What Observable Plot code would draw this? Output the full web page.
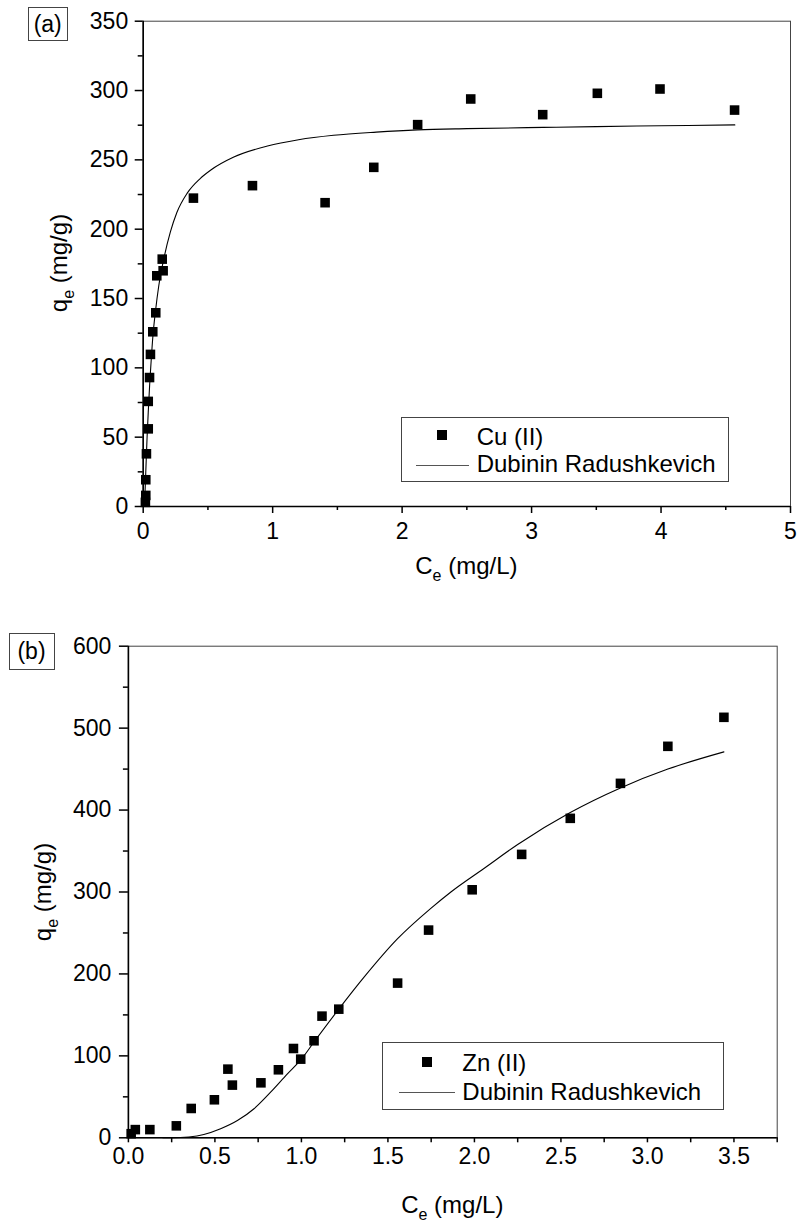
<!DOCTYPE html>
<html><head><meta charset="utf-8">
<script src="https://cdn.jsdelivr.net/npm/d3@7"></script>
<script src="https://cdn.jsdelivr.net/npm/@observablehq/plot@0.6"></script>
<style>
body{margin:0;background:#fff;font-family:"Liberation Sans",Arial,sans-serif;color:#000;}
#wrap{position:relative;width:798px;height:1222px;overflow:hidden;background:#fff;}
.abs{position:absolute;white-space:nowrap;font-size:24px;line-height:1;}
.sub{font-size:16px;position:relative;top:7px;}
.box{position:absolute;border:1px solid #444;box-sizing:border-box;}
.sq{position:absolute;width:10px;height:10px;background:#000;}
.ln{position:absolute;height:0;border-top:1px solid #555;}
</style></head><body><div id="wrap"></div>
<script>
// ---- Panel (a): Cu(II) ----
const cuCe = [0.017, 0.02, 0.02, 0.025, 0.039, 0.039, 0.049, 0.056, 0.074, 0.097, 0.105, 0.147, 0.154, 0.388, 0.844, 1.405, 1.781, 2.12, 2.53, 3.086, 3.508, 3.992, 4.568];
const cuQe = [3, 8, 19.3, 38, 56, 75.8, 93, 109.7, 126, 139.7, 166.4, 178.4, 170, 222.4, 231.4, 219.1, 244.6, 275.4, 293.9, 282.6, 298, 301.1, 285.9];
const cuFitCe = [0.012, 0.02, 0.03, 0.04, 0.05, 0.06, 0.075, 0.095, 0.12, 0.16, 0.21, 0.26, 0.34, 0.44, 0.52, 0.7, 0.96, 1.2, 1.47, 1.8, 2.12, 2.5, 3.09, 3.5, 4.0, 4.57];
const cuFitQe = [5, 25, 50, 70, 88, 103, 123, 141, 159, 179, 198, 212, 226, 236.5, 242.5, 252, 260, 264.5, 267.7, 270, 271.6, 272.5, 273.4, 274, 274.6, 275.2];
const xTicksA = [0, 1, 2, 3, 4, 5];
const xMinorA = [0.5, 1.5, 2.5, 3.5, 4.5];
const yTicksA = [0, 50, 100, 150, 200, 250, 300, 350];
const yMinorA = [25, 75, 125, 175, 225, 275, 325];

// ---- Panel (b): Zn(II) ----
const znCe = [0.016, 0.04, 0.124, 0.277, 0.363, 0.497, 0.575, 0.601, 0.766, 0.867, 0.954, 0.996, 1.073, 1.119, 1.216, 1.556, 1.735, 1.987, 2.273, 2.554, 2.844, 3.118, 3.442];
const znQe = [5, 10, 10, 14.6, 35.8, 46.4, 83.8, 64.3, 67.1, 83, 109, 96, 118.4, 148.5, 157, 188.8, 253.5, 302.7, 345.9, 389.9, 432.6, 477.8, 513.2];
const znFitCe = [0.2, 0.3, 0.35, 0.436, 0.533, 0.63, 0.726, 0.822, 0.919, 0.996, 1.073, 1.216, 1.362, 1.556, 1.748, 1.864, 2.057, 2.25, 2.554, 2.844, 3.118, 3.442];
const znFitQe = [0, 0.3, 1, 4, 11, 21, 35.5, 55.7, 78, 95, 117, 157, 196, 243, 280, 300, 329, 358, 397, 427, 450, 471];
const xTicksB = [0, 0.5, 1, 1.5, 2, 2.5, 3, 3.5];
const xMinorB = [0.25, 0.75, 1.25, 1.75, 2.25, 2.75, 3.25, 3.75];
const yTicksB = [0, 100, 200, 300, 400, 500, 600];
const yMinorB = [50, 150, 250, 350, 450, 550];

function panel(o) {
  const pts = o.px.map((x, i) => ({x, y: o.py[i]}));
  const fit = o.fx.map((x, i) => ({x, y: o.fy[i]}));
  const fs = 23;
  return Plot.plot({
    width: 798, height: o.height,
    marginTop: o.mt, marginBottom: o.mb, marginLeft: o.ml, marginRight: o.mr,
    style: {fontFamily: "'Liberation Sans', Arial, sans-serif", fontSize: "23px", color: "#000", background: "transparent", overflow: "visible"},
    x: {domain: o.xd, label: null},
    y: {domain: o.yd, label: null},
    marks: [
      Plot.frame({stroke: "#444", strokeWidth: 1}),
      Plot.axisX(o.xm, {tickSize: o.xMinorSize, tickFormat: () => "", strokeWidth: 1.5, label: null, fontSize: fs}),
      Plot.axisX(o.xt, {tickSize: o.xMajorSize, tickPadding: o.xPad, strokeWidth: 1.5, tickFormat: o.xf, label: null, fontSize: fs}),
      Plot.axisY(o.ym, {tickSize: 5, tickFormat: () => "", strokeWidth: 1.5, label: null, fontSize: fs}),
      Plot.axisY(o.yt, {tickSize: o.yMajorSize, tickPadding: o.yPad, strokeWidth: 1.5, label: null, fontSize: fs}),
      Plot.ruleY([o.yd[0]], {stroke: "#000", strokeWidth: 1.6}),
      Plot.ruleX([o.xd[0]], {stroke: "#000", strokeWidth: 1.6}),
      Plot.line(fit, {x: "x", y: "y", stroke: "#000", strokeWidth: 1.1, curve: "monotone-x"}),
      Plot.dot(pts, {x: "x", y: "y", symbol: "square", r: 5.4, fill: "#000", stroke: null})
    ]
  });
}

const wrap = document.getElementById("wrap");

const svgA = panel({
  height: 600, mt: 20.7, mb: 94, ml: 142.7, mr: 8,
  xd: [0, 5], yd: [0, 350], xt: xTicksA, xm: xMinorA, yt: yTicksA, ym: yMinorA,
  xf: d => String(d), xMajorSize: 7, xMinorSize: 4, xPad: 9, yMajorSize: 8, yPad: 7,
  px: cuCe, py: cuQe, fx: cuFitCe, fy: cuFitQe
});
svgA.style.position = "absolute"; svgA.style.left = "0px"; svgA.style.top = "0px";
wrap.appendChild(svgA);

const svgB = panel({
  height: 622, mt: 45.7, mb: 84.7, ml: 127.9, mr: 21.3,
  xd: [0, 3.75], yd: [0, 600], xt: xTicksB, xm: xMinorB, yt: yTicksB, ym: yMinorB,
  xf: d => d.toFixed(1), xMajorSize: 5, xMinorSize: 5, xPad: 4.5, yMajorSize: 9, yPad: 8,
  px: znCe, py: znQe, fx: znFitCe, fy: znFitQe
});
svgB.style.position = "absolute"; svgB.style.left = "0px"; svgB.style.top = "600px";
wrap.appendChild(svgB);

// ---- text overlays ----
function add(html, css, cls) {
  const d = document.createElement("div");
  d.className = cls || "abs";
  d.innerHTML = html || "";
  Object.assign(d.style, css);
  wrap.appendChild(d);
  return d;
}
const ylab = 'q<span class="sub">e</span> (mg/g)';
const xlab = 'C<span class="sub">e</span> (mg/L)';

// panel labels
add("", {left: "27.7px", top: "7.3px", width: "40px", height: "34px"}, "box");
add("(a)", {left: "27.7px", top: "7.3px", width: "40px", height: "34px", display: "flex", alignItems: "center", justifyContent: "center", fontSize: "23px"});
add("", {left: "8.5px", top: "632.5px", width: "46px", height: "37px"}, "box");
add("(b)", {left: "8.5px", top: "632.5px", width: "46px", height: "37px", display: "flex", alignItems: "center", justifyContent: "center", fontSize: "23px"});

// axis titles
add(ylab, {left: "59px", top: "263px", transform: "translate(-50%,-50%) rotate(-90deg)"});
add(xlab, {left: "466.4px", top: "554px", transform: "translateX(-50%)"});
add(ylab, {left: "43px", top: "891.5px", transform: "translate(-50%,-50%) rotate(-90deg)"});
add(xlab, {left: "452.3px", top: "1192.5px", transform: "translateX(-50%)"});

// legend (a)
add("", {left: "401px", top: "416.7px", width: "328.3px", height: "65.6px"}, "box");
add("", {left: "436.7px", top: "430px"}, "sq");
add("Cu (II)", {left: "476.7px", top: "424.7px"});
add("", {left: "415.7px", top: "465px", width: "53.6px"}, "ln");
add("Dubinin Radushkevich", {left: "476.7px", top: "451.9px"});

// legend (b)
add("", {left: "382.3px", top: "1041.7px", width: "341.7px", height: "68.3px"}, "box");
add("", {left: "422px", top: "1056.7px"}, "sq");
add("Zn (II)", {left: "462.3px", top: "1051.4px"});
add("", {left: "399.3px", top: "1092px", width: "55.7px"}, "ln");
add("Dubinin Radushkevich", {left: "462.3px", top: "1080.4px"});
</script>
</body></html>
